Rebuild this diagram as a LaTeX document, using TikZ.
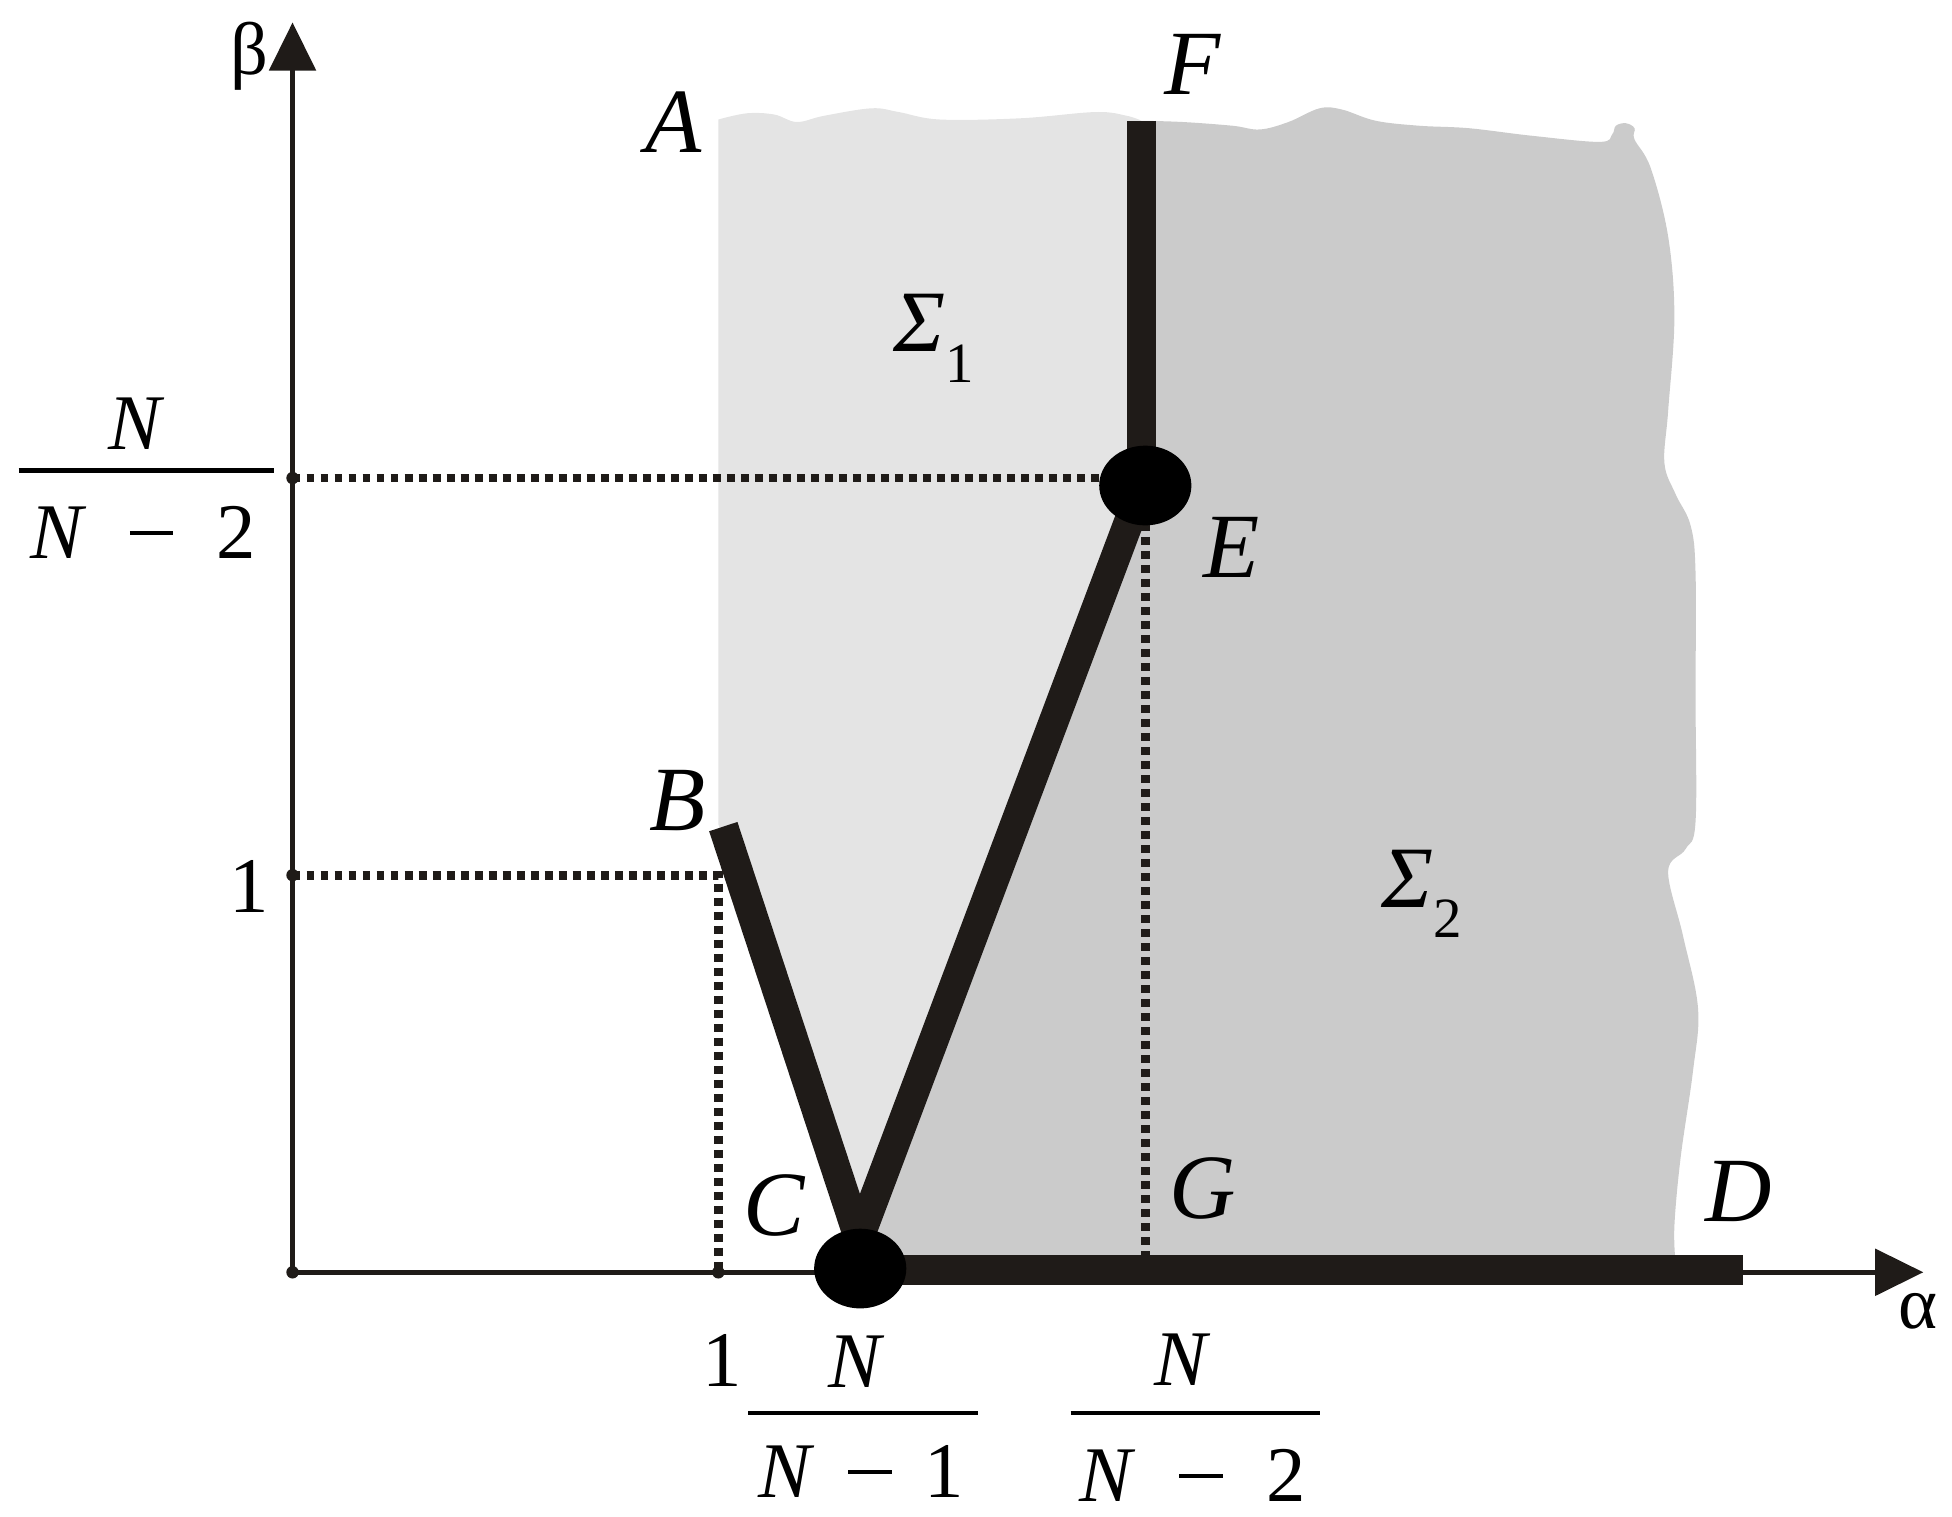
\documentclass[tikz,border=0pt]{standalone}
\usepackage{fontspec}
\setmainfont{Liberation Serif}
\usetikzlibrary{positioning, arrows.meta, shapes.geometric, calc}
\definecolor{fieldLight}{RGB}{228,228,228}
\definecolor{fieldDark}{RGB}{203,203,203}
\definecolor{inkDark}{RGB}{31,27,24}
\newcommand{\fracminus}{\rule[0.3em]{0.55em}{0.9pt}}
\tikzset{
  axisLine/.style={
    draw=inkDark,
    line width=1.25pt,
    -{Triangle[length=11pt,width=10.5pt]}
  },
  edgeLine/.style={
    draw=inkDark,
    line width=6.8pt
  },
  guideLine/.style={
    draw=inkDark,
    line width=2pt,
    dash pattern=on 1.8pt off 1.4pt
  },
  fracBar/.style={
    draw=black,
    line width=1.1pt
  },
  bigDot/.style={
    ellipse,
    fill=black,
    minimum width=0.74cm,
    minimum height=0.64cm,
    inner sep=0pt
  },
  tickDot/.style={
    circle,
    fill=inkDark,
    minimum size=0.1cm,
    inner sep=0pt
  },
  ptLabel/.style={
    font=\fontsize{21}{24}\selectfont\itshape,
    inner sep=0pt
  },
  tickLabel/.style={
    font=\fontsize{18}{21}\selectfont,
    inner sep=0pt
  },
  axisLabel/.style={
    font=\fontsize{17}{20}\selectfont,
    inner sep=0pt
  },
  areaLabel/.style={
    font=\fontsize{20}{24}\selectfont,
    inner sep=0pt
  }
}

\begin{document}
\begin{tikzpicture}[x=0.01cm, y=-0.01cm]
  \useasboundingbox (0,0) rectangle (1568,1218);
  % key points
  \coordinate (O) at (235,1022);
  \coordinate (yTip) at (235,18);
  \coordinate (xTip) at (1545,1022);
  \coordinate (Ftop) at (917,97);
  \coordinate (Emid) at (917,392);
  \coordinate (Btop) at (581,664);
  \coordinate (Cvert) at (690,995);
  \coordinate (Cbase) at (691,1020);
  \coordinate (Dend) at (1400,1020);

  % region Sigma_1
  \fill[fieldLight] (577,662) -- (577,96) -- plot[smooth, tension=0.6] coordinates {(577,96) (600,91) (622,92) (640,98) (662,93) (700,87) (722,90) (755,96) (820,95) (880,90) (905,93) (917,97)} -- (Emid) -- (Cvert) -- cycle;
  % region Sigma_2
  \fill[fieldDark] (Ftop) -- plot[smooth, tension=0.6] coordinates {(917,97) (950,98) (990,101) (1012,104) (1035,98) (1060,87) (1078,88) (1105,97) (1140,101) (1180,103) (1230,109) (1285,114) (1295,108) (1298,101) (1306,99) (1313,103) (1313,112) (1326,135) (1340,190) (1345,255) (1340,330) (1337,372) (1346,397) (1358,422) (1362,460) (1362,560) (1362,660) (1354,682) (1340,700) (1352,752) (1364,810) (1360,860) (1350,930) (1345,985) (1346,1015)} -- (1346,1020) -- (Cbase) -- (Cvert) -- (Emid) -- cycle;

  % guide lines
  \coordinate (yE) at (235,384);
  \coordinate (yOne) at (235,703);
  \coordinate (cornerB) at (577,703);
  \coordinate (xOne) at (577,1022);
  \coordinate (xG) at (920,1022);
  \draw[guideLine] (yE) -- (888,384);
  \draw[guideLine] (yOne) -- (cornerB) -- (xOne);
  \draw[guideLine] (920,420) -- (xG);

  % axes
  \draw[axisLine] (O) -- (yTip);
  \draw[axisLine] (O) -- (xTip);

  % boundary lines
  \draw[edgeLine] (Ftop) -- (Emid);
  \draw[edgeLine] (Btop) -- (Cvert);
  \draw[edgeLine] (Cvert) -- (Emid);
  \draw[edgeLine] (Cbase) -- (Dend);

  % special points
  \node[bigDot] (E) at (920,390) {};
  \node[bigDot] (C) at (691,1019) {};
  \foreach \p in {O, yE, yOne, xOne, xG}
    \node[tickDot] at (\p) {};

  % point labels
  \node[ptLabel] (labA) at (541,98) {A};
  \node[ptLabel] (labF) at (958,52) {F};
  \node[ptLabel] (labE) at (989,440) {E};
  \node[ptLabel] (labB) at (544,643) {B};
  \node[ptLabel] (labC) at (622,968) {C};
  \node[ptLabel] (labG) at (966,955) {G};
  \node[ptLabel] (labD) at (1397,957) {D};

  % region labels
  \node[areaLabel] (sigOne) at (750,272) {\textit{Σ}\raisebox{-0.35em}{\fontsize{13}{13}\selectfont 1}};
  \node[areaLabel] (sigTwo) at (1142,718) {\textit{Σ}\raisebox{-0.35em}{\fontsize{13}{13}\selectfont 2}};

  % axis labels
  \node[axisLabel] (labBeta) at (200,45) {β};
  \node[axisLabel] (labAlpha) at (1541,1053) {α};

  % tick labels
  \node[tickLabel] (tickYone) at (200,712) {1};
  \node[tickLabel] (tickXone) at (580,1093) {1};
  \node[tickLabel] (numY) at (110,340) {\textit{N}};
  \draw[fracBar] (15,378) -- (220,378);
  \node[tickLabel] (denY) at (115,428) {\textit{N}\hspace{0.55em}\fracminus\hspace{0.55em}2};
  \node[tickLabel] (numC) at (688,1094) {\textit{N}};
  \draw[fracBar] (601,1135) -- (786,1135);
  \node[tickLabel] (denC) at (692,1182) {\textit{N}\hspace{0.42em}\fracminus\hspace{0.42em}1};
  \node[tickLabel] (numG) at (950,1092) {\textit{N}};
  \draw[fracBar] (860,1135) -- (1060,1135);
  \node[tickLabel] (denG) at (958,1185) {\textit{N}\hspace{0.55em}\fracminus\hspace{0.55em}2};
\end{tikzpicture}
\end{document}
